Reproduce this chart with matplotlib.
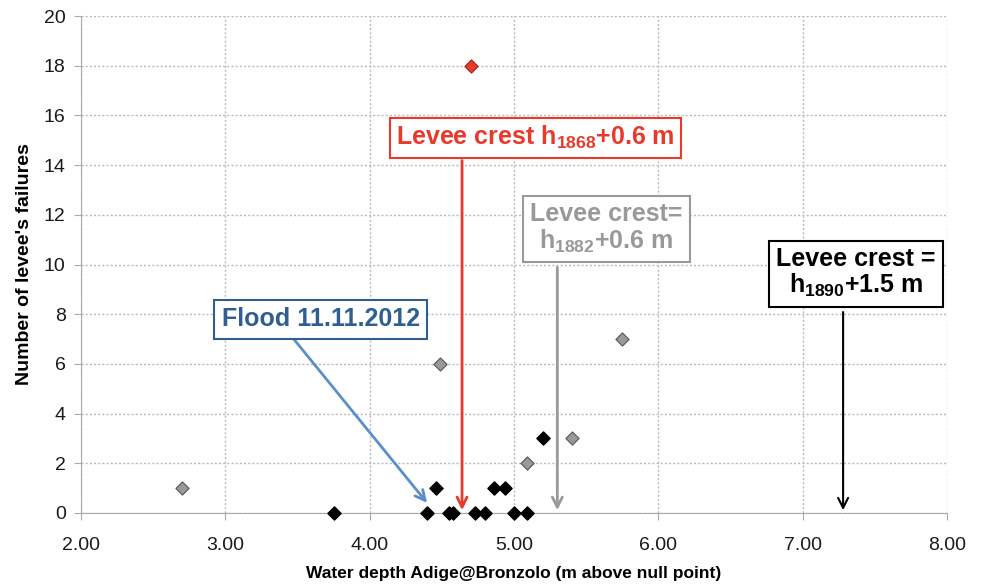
import numpy as np
import matplotlib.pyplot as plt

plt.rcParams['font.family'] = ['Liberation Sans', 'DejaVu Sans']
plt.rcParams['mathtext.fontset'] = 'custom'
plt.rcParams['mathtext.rm'] = 'Liberation Sans'
plt.rcParams['mathtext.bf'] = 'Liberation Sans:bold'

# failures recorded (black), historical events (gray), 1882 event (red)
black_x = [3.75, 4.40, 4.46, 4.55, 4.58, 4.73, 4.80, 4.86, 4.94, 5.00, 5.09, 5.20]
black_y = [0, 0, 1, 0, 0, 0, 0, 1, 1, 0, 0, 3]
gray_x = [2.70, 4.49, 5.09, 5.40, 5.75]
gray_y = [1, 6, 2, 3, 7]
red_x = [4.70]
red_y = [18]

# levee crest levels (arrow x positions)
crest_1868 = 4.64
crest_1882 = 5.30
crest_1890 = 7.28
flood_2012 = 4.40

fig = plt.figure(figsize=(9.83, 5.88), dpi=100)
ax = fig.add_axes([0.0824, 0.1276, 0.881, 0.845])

ax.scatter(gray_x, gray_y, marker='D', s=45, color='#999999', edgecolors='#555555', linewidths=0.8, zorder=3, clip_on=False)
ax.scatter(black_x, black_y, marker='D', s=45, color='black', edgecolors='black', zorder=3, clip_on=False)
ax.scatter(red_x, red_y, marker='D', s=45, color='#e8392b', edgecolors='#a02010', linewidths=0.8, zorder=3, clip_on=False)

ax.set_xlim(2, 8)
ax.set_ylim(0, 20)
ax.set_xticks(np.arange(2, 8.01, 1))
ax.set_xticklabels(['%.2f' % v for v in np.arange(2, 8.01, 1)])
ax.set_yticks(np.arange(0, 21, 2))
ax.tick_params(labelsize=14, colors='#1a1a1a', length=5, color='#aaaaaa')
ax.tick_params(axis='x', pad=12)
ax.tick_params(axis='y', pad=6)
ax.grid(True, linestyle=(0, (1.5, 1.5)), color='#bbbbbb', linewidth=1)
ax.set_axisbelow(True)
for s in ['top', 'right']:
    ax.spines[s].set_visible(False)
for s in ['left', 'bottom']:
    ax.spines[s].set_color('#aaaaaa')

ax.set_xlabel('Water depth Adige@Bronzolo (m above null point)', fontsize=12.5, fontweight='bold', labelpad=9)
ax.set_ylabel("Number of levee's failures", fontsize=14, fontweight='bold', labelpad=8)

box_kw = dict(fontweight='bold', ha='center', va='center', fontsize=18, linespacing=1.05)

# red annotation
ax.annotate('', xy=(crest_1868, 0), xytext=(crest_1868, 14.3),
            arrowprops=dict(arrowstyle='->', color='#e8392b', lw=2, mutation_scale=18))
ax.text(5.15, 15.1, r'Levee crest h$_{\mathbf{1868}}$+0.6 m', color='#e8392b',
        bbox=dict(boxstyle='square,pad=0.25', fc='white', ec='#e8392b', lw=1.5), **box_kw)

# gray annotation
ax.annotate('', xy=(crest_1882, 0), xytext=(crest_1882, 10.0),
            arrowprops=dict(arrowstyle='->', color='#999999', lw=2, mutation_scale=18))
ax.text(5.64, 11.45, 'Levee crest=\n' + r'h$_{\mathbf{1882}}$+0.6 m', color='#999999',
        bbox=dict(boxstyle='square,pad=0.3', fc='white', ec='#999999', lw=1.5), **box_kw)

# black annotation
ax.annotate('', xy=(crest_1890, 0), xytext=(crest_1890, 8.2),
            arrowprops=dict(arrowstyle='->', color='black', lw=1.5, mutation_scale=18))
ax.text(7.37, 9.66, 'Levee crest =\n' + r'h$_{\mathbf{1890}}$+1.5 m', color='black',
        bbox=dict(boxstyle='square,pad=0.3', fc='white', ec='black', lw=1.5), **box_kw)

# blue annotation
ax.annotate('', xy=(flood_2012 + 0.01, 0.32), xytext=(3.46, 7.1),
            arrowprops=dict(arrowstyle='->', color='#5b8fc9', lw=2, mutation_scale=18))
ax.text(3.66, 7.79, 'Flood 11.11.2012', color='#2f5f91',
        bbox=dict(boxstyle='square,pad=0.3', fc='white', ec='#2f5f91', lw=1.5), **box_kw)

fig.savefig('out.png', dpi=100)
